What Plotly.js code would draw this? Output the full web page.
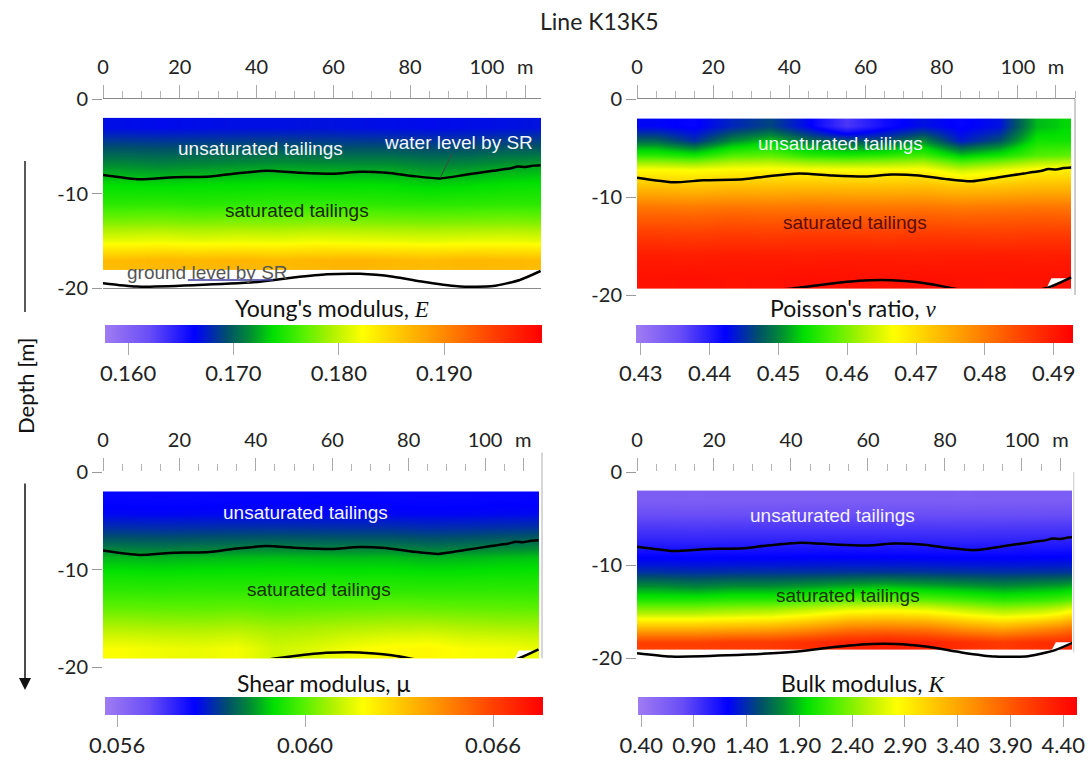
<!DOCTYPE html>
<html><head><meta charset="utf-8">
<script src="https://cdn.plot.ly/plotly-3.0.1.min.js"></script>
<style>html,body{margin:0;padding:0;background:#fff}#chart{width:1090px;height:763px}</style>
</head><body><div id="chart"></div>
<script>
// ---------------- DATA ----------------
// column edges along the line (m)
const xEdges = [0, 10, 20, 30, 40, 50, 60, 70, 80, 90, 100, 110, 114];

// Young's modulus E (rows bottom -> top)
const yEdgesE = [-18.1, -16, -14, -12, -10, -8, -6, -4, -2];
const zE = [
  [0.1866,0.1869,0.1868,0.1870,0.1867,0.1869,0.1871,0.1868,0.1866,0.1869,0.1867,0.1866],
  [0.1814,0.1816,0.1813,0.1815,0.1814,0.1817,0.1815,0.1814,0.1812,0.1814,0.1815,0.1813],
  [0.1779,0.1780,0.1778,0.1780,0.1779,0.1781,0.1780,0.1779,0.1778,0.1779,0.1780,0.1779],
  [0.1752,0.1753,0.1751,0.1752,0.1753,0.1754,0.1753,0.1752,0.1751,0.1752,0.1753,0.1752],
  [0.1737,0.1736,0.1737,0.1738,0.1739,0.1738,0.1738,0.1737,0.1734,0.1736,0.1739,0.1740],
  [0.1716,0.1714,0.1716,0.1718,0.1720,0.1719,0.1718,0.1718,0.1714,0.1716,0.1720,0.1722],
  [0.1693,0.1692,0.1693,0.1694,0.1695,0.1694,0.1693,0.1693,0.1691,0.1692,0.1695,0.1696],
  [0.1668,0.1667,0.1668,0.1669,0.1669,0.1670,0.1669,0.1668,0.1667,0.1668,0.1669,0.1670]
];

// Poisson's ratio nu
const yEdgesNu = [-19.3, -17, -15, -13, -11, -9.5, -8, -6.5, -5, -3.5, -2];
const zNu = [
  [0.4909,0.4910,0.4908,0.4909,0.4911,0.4909,0.4908,0.4910,0.4909,0.4908,0.4909,0.4910],
  [0.4896,0.4895,0.4897,0.4896,0.4895,0.4897,0.4896,0.4895,0.4896,0.4897,0.4895,0.4896],
  [0.4865,0.4863,0.4866,0.4864,0.4866,0.4865,0.4864,0.4866,0.4865,0.4863,0.4866,0.4865],
  [0.4826,0.4824,0.4828,0.4825,0.4827,0.4826,0.4825,0.4827,0.4824,0.4826,0.4828,0.4826],
  [0.4776,0.4773,0.4778,0.4776,0.4779,0.4777,0.4776,0.4778,0.4772,0.4775,0.4779,0.4778],
  [0.4725,0.4721,0.4727,0.4726,0.4728,0.4726,0.4725,0.4727,0.4718,0.4722,0.4729,0.4730],
  [0.4672,0.4668,0.4676,0.4678,0.4674,0.4672,0.4673,0.4676,0.4640,0.4660,0.4680,0.4684],
  [0.4560,0.4547,0.4579,0.4585,0.4560,0.4553,0.4560,0.4572,0.4528,0.4547,0.4579,0.4585],
  [0.4484,0.4452,0.4503,0.4528,0.4490,0.4471,0.4471,0.4503,0.4439,0.4471,0.4547,0.4547],
  [0.4426,0.4420,0.4445,0.4464,0.4426,0.4376,0.4414,0.4433,0.4420,0.4433,0.4522,0.4534]
];

// Shear modulus mu
const yEdgesMu = [-19.1, -17, -15, -13, -11, -9.5, -8, -6.5, -5, -3.5, -2];
const zMu = [
  [0.06250,0.06240,0.06235,0.06245,0.06205,0.06220,0.06245,0.06262,0.06268,0.06250,0.06245,0.06235],
  [0.06178,0.06172,0.06170,0.06176,0.06162,0.06168,0.06178,0.06185,0.06188,0.06178,0.06172,0.06170],
  [0.06108,0.06106,0.06104,0.06109,0.06102,0.06106,0.06110,0.06114,0.06112,0.06108,0.06106,0.06104],
  [0.06057,0.06055,0.06058,0.06057,0.06056,0.06058,0.06059,0.06058,0.06056,0.06057,0.06058,0.06057],
  [0.06022,0.06020,0.06022,0.06023,0.06024,0.06023,0.06022,0.06023,0.06020,0.06021,0.06024,0.06025],
  [0.05985,0.05982,0.05986,0.05990,0.05992,0.05990,0.05989,0.05990,0.05982,0.05986,0.05993,0.05996],
  [0.05918,0.05915,0.05918,0.05921,0.05924,0.05922,0.05920,0.05921,0.05914,0.05918,0.05925,0.05930],
  [0.05859,0.05857,0.05859,0.05861,0.05862,0.05861,0.05860,0.05860,0.05856,0.05858,0.05862,0.05864],
  [0.05813,0.05812,0.05813,0.05814,0.05815,0.05814,0.05813,0.05813,0.05811,0.05812,0.05815,0.05816],
  [0.05801,0.05800,0.05801,0.05802,0.05802,0.05803,0.05802,0.05801,0.05800,0.05801,0.05802,0.05803]
];

// Bulk modulus K
const yEdgesK = [-19.1, -17.5, -16, -14.5, -13, -11.5, -10, -8, -6, -4, -2];
const zK = [
  [4.072,4.072,4.114,4.114,4.197,4.280,4.322,4.280,4.197,4.114,4.197,4.239],
  [3.282,3.282,3.324,3.365,3.490,3.656,3.698,3.656,3.490,3.365,3.532,3.698],
  [2.575,2.575,2.616,2.658,2.783,2.949,2.991,2.949,2.783,2.658,2.741,2.949],
  [2.076,2.076,2.117,2.117,2.200,2.284,2.325,2.284,2.200,2.117,2.159,2.242],
  [1.743,1.701,1.743,1.743,1.784,1.826,1.868,1.826,1.784,1.743,1.784,1.826],
  [1.410,1.400,1.410,1.415,1.420,1.430,1.435,1.430,1.420,1.410,1.420,1.430],
  [1.202,1.195,1.202,1.205,1.210,1.212,1.210,1.208,1.200,1.202,1.210,1.215],
  [0.994,0.990,0.994,0.996,0.998,1.000,0.998,0.996,0.990,0.994,0.998,1.002],
  [0.828,0.825,0.828,0.830,0.832,0.830,0.828,0.828,0.824,0.826,0.830,0.832],
  [0.640,0.636,0.640,0.644,0.646,0.644,0.642,0.640,0.636,0.640,0.646,0.650]
];

// interpreted boundaries (distance m, depth m)
const xWater = [0, 9.6, 17.4, 27.9, 33.9, 42.6, 51.3, 60, 66.9, 73.9, 80.8, 87.8, 94.7, 101.6, 104, 106, 108, 110, 112, 114];
const dWater = [-8.04, -8.5, -8.3, -8.2, -7.9, -7.6, -7.8, -7.9, -7.7, -7.8, -8.15, -8.4, -8.0, -7.6, -7.45, -7.35, -7.15, -7.2, -7.05, -7.0];
const xGround = [0, 8.7, 23.5, 40.9, 49.6, 58.3, 67, 75.6, 84.3, 93, 101.6, 108.6, 114];
const dGround = [-19.5, -19.85, -19.7, -19.33, -18.9, -18.55, -18.5, -18.8, -19.4, -19.85, -19.8, -19.15, -18.2];
// masked (no data) sliver at the right end of the sections
const xGap = [107.5, 108.8, 114, 108.4];
const dGap = [-19.3, -18.3, -18.3, -19.3];

// axis ticks
const xTickVals = [0, 20, 40, 60, 80, 100, 110];
const xTickText = ['0', '20', '40', '60', '80', '100', 'm'];
const yTickVals = [0, -10, -20];
const yTickText = ['0', '-10', '-20'];

// colour bar ranges and ticks
const rangeE = [0.1578, 0.1993];
const ticksE = [0.160, 0.170, 0.180, 0.190];
const ticksEText = ['0.160', '0.170', '0.180', '0.190'];
const rangeNu = [0.4293, 0.4928];
const ticksNu = [0.43, 0.44, 0.45, 0.46, 0.47, 0.48, 0.49];
const ticksNuText = ['0.43', '0.44', '0.45', '0.46', '0.47', '0.48', '0.49'];
const rangeMu = [0.05568, 0.06733];
const ticksMu = [0.0560, 0.0610, 0.0660];
const ticksMuText = ['0.056', '0.060', '0.066'];
const rangeK = [0.37, 4.53];
const ticksK = [0.4, 0.9, 1.4, 1.9, 2.4, 2.9, 3.4, 3.9, 4.4];
const ticksKText = ['0.40', '0.90', '1.40', '1.90', '2.40', '2.90', '3.40', '3.90', '4.40'];

// ---------------- STYLE ----------------
const W = 1090, H = 763;
const px = v => v / W;
const py = v => 1 - v / H;
const FONT = 'Lato, "Open Sans", sans-serif';
const LABFONT = '"Liberation Sans", Arial, sans-serif';

const cscale = [
  [0.00, '#a07cf2'], [0.10, '#6a4ef6'], [0.205, '#0000ff'], [0.28, '#00506a'],
  [0.33, '#008a35'], [0.385, '#00e000'], [0.45, '#50f000'], [0.52, '#b0f200'],
  [0.59, '#ffff00'], [0.68, '#ffc400'], [0.77, '#ff8c00'], [0.88, '#ff4400'], [1.00, '#ff0000']
];

function cbar(x0, x1, ytop, tv, tt) {
  return {
    orientation: 'h', x: px(x0), xanchor: 'left', y: py(ytop), yanchor: 'top',
    len: (x1 - x0) / W, lenmode: 'fraction', thickness: 18, thicknessmode: 'pixels',
    xpad: 0, ypad: 0, outlinewidth: 0, ticks: 'outside', ticklen: 12, tickwidth: 1,
    tickcolor: '#aaaaaa', tickvals: tv, ticktext: tt,
    tickfont: {family: FONT, size: 22, color: '#222'}
  };
}
function heat(z, yE, rng, xa, ya, cb) {
  return {type: 'heatmap', x: xEdges, y: yE, z: z, zsmooth: 'best', colorscale: cscale,
    zmin: rng[0], zmax: rng[1], xaxis: xa, yaxis: ya, colorbar: cb, hoverinfo: 'skip'};
}
function line(xs, ys, xa, ya) {
  return {type: 'scatter', mode: 'lines', x: xs, y: ys, xaxis: xa, yaxis: ya,
    line: {color: '#000', width: 2.5, shape: 'spline', smoothing: 0.6}, hoverinfo: 'skip', showlegend: false};
}
function gap(xa, ya) {
  return {type: 'scatter', mode: 'lines', x: xGap, y: dGap, xaxis: xa, yaxis: ya, fill: 'toself',
    fillcolor: '#ffffff', line: {width: 0, color: '#ffffff'}, hoverinfo: 'skip', showlegend: false};
}

const traces = [
  heat(zE, yEdgesE, rangeE, 'x', 'y', cbar(105, 542, 325, ticksE, ticksEText)),
  line(xWater, dWater, 'x', 'y'),
  line(xGround, dGround, 'x', 'y'),

  heat(zNu, yEdgesNu, rangeNu, 'x2', 'y2', cbar(636, 1073, 325, ticksNu, ticksNuText)),
  gap('x2', 'y2'),
  line(xWater, dWater, 'x2', 'y2'),
  line(xGround, dGround, 'x5', 'y5'),

  heat(zMu, yEdgesMu, rangeMu, 'x3', 'y3', cbar(105, 543, 697, ticksMu, ticksMuText)),
  gap('x3', 'y3'),
  line(xWater, dWater, 'x3', 'y3'),
  line(xGround, dGround, 'x6', 'y6'),

  heat(zK, yEdgesK, rangeK, 'x4', 'y4', cbar(638, 1077, 697, ticksK, ticksKText)),
  gap('x4', 'y4'),
  line(xWater, dWater, 'x4', 'y4'),
  line(xGround, dGround, 'x4', 'y4')
];

function xax(l, r, anchor, showline, mirror, rmax) {
  return {
    domain: [px(l), px(r)], anchor: anchor, side: 'top', range: [0, rmax],
    showline: showline, mirror: mirror, linecolor: '#8a8a8a', linewidth: 1,
    showgrid: false, zeroline: false, ticks: 'outside', ticklen: 13, tickwidth: 1,
    tickcolor: '#aaaaaa', tickvals: xTickVals, ticktext: xTickText, ticklabelstandoff: 3,
    tickfont: {family: FONT, size: 20, color: '#222'},
    minor: {tickmode: 'linear', tick0: 0, dtick: 5, ticks: 'outside', ticklen: 7, tickcolor: '#b5b5b5', tickwidth: 1, showgrid: false}
  };
}
function yax(top, bot, anchor) {
  return {
    domain: [py(bot), py(top)], anchor: anchor, range: [-20, 0],
    showline: false, showgrid: false, zeroline: false, ticks: 'outside', ticklen: 10,
    tickcolor: '#9a9a9a', tickwidth: 1, tickvals: yTickVals, ticktext: yTickText,
    tickfont: {family: FONT, size: 20, color: '#222'}
  };
}
function hidden(anchor, range, dom) {
  return {domain: dom, anchor: anchor, range: range, visible: false, fixedrange: true};
}

function ann(text, x, y, xr, yr, color) {
  return {text: text, x: x, y: y, xref: xr, yref: yr, showarrow: false,
    font: {family: LABFONT, size: 19, color: color}, xanchor: 'center', yanchor: 'middle'};
}
function cbTitle(text, x, y) {
  return {text: text, x: px(x), y: py(y), xref: 'paper', yref: 'paper', showarrow: false,
    font: {family: FONT, size: 23, color: '#111'}, xanchor: 'center', yanchor: 'middle'};
}
const SERIF = "<span style='font-family:Liberation Serif'>";

const layout = {
  width: W, height: H, margin: {l: 0, r: 0, t: 0, b: 0},
  paper_bgcolor: '#ffffff', plot_bgcolor: 'rgba(0,0,0,0)', showlegend: false,
  font: {family: FONT, color: '#222'},
  title: {text: 'Line K13K5', font: {family: FONT, size: 23, color: '#222'},
    x: px(540), xanchor: 'left', xref: 'container', y: py(22), yanchor: 'middle', yref: 'container'},
  xaxis: xax(103, 541, 'y', true, true, 114.1),
  yaxis: yax(99, 288, 'x'),
  xaxis2: xax(637, 1075, 'y2', true, false, 115),
  yaxis2: yax(99, 295, 'x2'),
  xaxis3: xax(103, 542, 'y3', false, false, 114.9),
  yaxis3: yax(472, 667, 'x3'),
  xaxis4: xax(637, 1072, 'y4', false, false, 113),
  yaxis4: yax(472, 658, 'x4'),
  xaxis5: hidden('y5', [0, 115], [px(637), px(1075)]),
  yaxis5: hidden('x5', [-(288 - 99) / 9.8, 0], [py(288), py(99)]),
  xaxis6: hidden('y6', [0, 114.9], [px(103), px(542)]),
  yaxis6: hidden('x6', [-(658 - 472) / 9.75, 0], [py(658), py(472)]),
  shapes: [
    {type: 'line', xref: 'x2 domain', yref: 'y2 domain', x0: 1, x1: 1, y0: 0, y1: 1, line: {color: '#9a9a9a', width: 1}},
    {type: 'line', xref: 'x3 domain', yref: 'y3 domain', x0: 1, x1: 1, y0: 0.045, y1: 1.1, line: {color: '#b0b0b0', width: 1}},
    {type: 'line', xref: 'x4 domain', yref: 'y4 domain', x0: 1.004, x1: 1.004, y0: 0.03, y1: 1.0, line: {color: '#c8c8c8', width: 1}},
    {type: 'line', xref: 'x', yref: 'y', x0: 22.1, x1: 44.3, y0: -19.15, y1: -19.15, line: {color: '#3c3ca0', width: 1.5}},
    {type: 'line', xref: 'paper', yref: 'paper', x0: px(25), x1: px(25), y0: py(161), y1: py(312), line: {color: '#222', width: 1.5}}
  ],
  annotations: [
    ann('unsaturated tailings', 40.9, -5.19, 'x', 'y', '#f4f6ff'),
    ann('saturated tailings', 50.5, -11.75, 'x', 'y', '#1a2a05'),
    {text: 'water level by SR', x: 87.8, y: -8.36, xref: 'x', yref: 'y', ax: 18, ay: -36,
      showarrow: true, arrowhead: 0, arrowwidth: 1, arrowcolor: '#3a4a3a', standoff: 0,
      font: {family: LABFONT, size: 19, color: '#f4f6ff'}},
    ann('ground level by SR', 27.3, -18.4, 'x', 'y', '#555555'),
    ann('unsaturated tailings', 53.3, -4.49, 'x2', 'y2', '#f4f6ff'),
    ann('saturated tailings', 57.2, -12.65, 'x2', 'y2', '#5c0c00'),
    ann('unsaturated tailings', 52.9, -4.2, 'x3', 'y3', '#f4f6ff'),
    ann('saturated tailings', 56.5, -12.0, 'x3', 'y3', '#1a3000'),
    ann('unsaturated tailings', 50.9, -4.73, 'x4', 'y4', '#f4f2ff'),
    ann('saturated tailings', 54.8, -13.33, 'x4', 'y4', '#1a3300'),
    cbTitle("Young's modulus, " + SERIF + "<i>E</i></span>", 332, 308),
    cbTitle("Poisson's ratio, " + SERIF + "<i>ν</i></span>", 853, 308),
    cbTitle("Shear modulus, μ", 323, 683),
    cbTitle("Bulk modulus, " + SERIF + "<i>K</i></span>", 863, 683),
    {text: 'Depth [m]', x: px(25), y: py(386), xref: 'paper', yref: 'paper', showarrow: false,
      textangle: -90, font: {family: FONT, size: 22, color: '#111'}, xanchor: 'center', yanchor: 'middle'},
    {text: '', x: px(25), y: py(690), xref: 'paper', yref: 'paper', showarrow: true,
      ax: 0, ay: -208, arrowhead: 2, arrowsize: 1.6, arrowwidth: 1.5, arrowcolor: '#111', standoff: 0}
  ]
};

Plotly.newPlot('chart', traces, layout, {displayModeBar: false, staticPlot: true});
</script>
</body></html>
